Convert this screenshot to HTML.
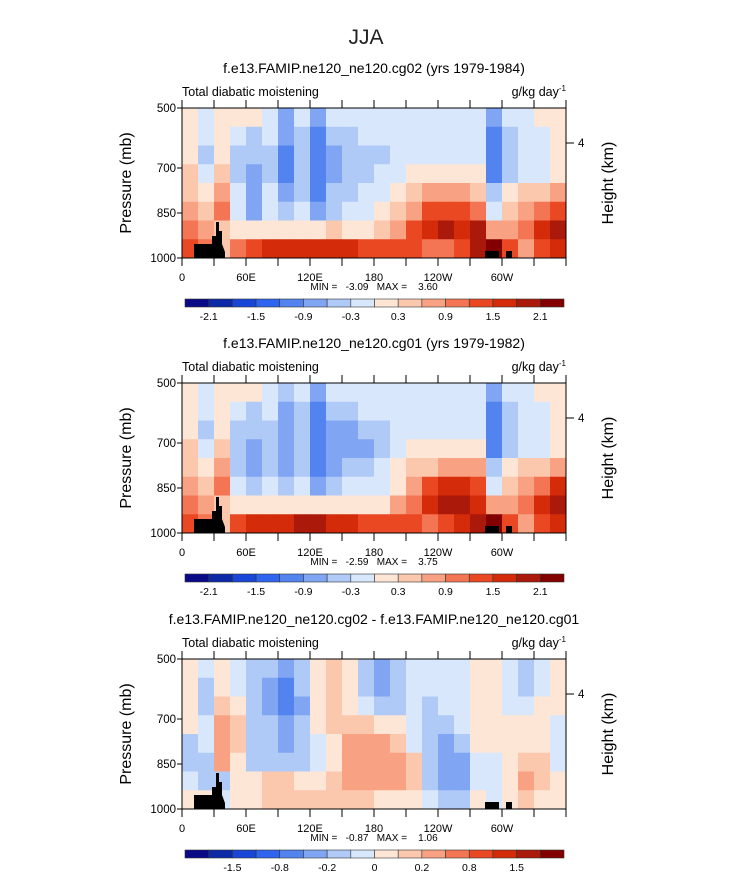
<!DOCTYPE html>
<html><head><meta charset="utf-8"><style>
body{margin:0;background:#fff;width:733px;height:873px;overflow:hidden}
svg{font-family:"Liberation Sans",sans-serif}
</style></head><body>
<svg id="fig" width="733" height="873" viewBox="0 0 733 873" xmlns="http://www.w3.org/2000/svg">
<text x="366" y="44" text-anchor="middle" font-size="21" fill="#222">JJA</text>
</svg>
<script>
const lonBins=[0,15,30,45,60,75,90,105,120,135,150,165,180,195,210,225,240,255,270,285,300,315,330,345,360];
const xTickLabels=["0","60E","120E","180","120W","60W"];
const xTickLons=[0,60,120,180,240,300];
const yTickLabels=["500","700","850","1000"];
const yTickFrac=[0,0.4,0.7,1];
const colors=["#0a0a86","#0d2aa6","#1846d6","#2e64ee","#5283ef","#80a5f2","#b0caf7","#d8e7fb","#fde6d6","#fbc7ad","#f8a283","#f37553","#e94823","#d42b0b","#ab190a","#820000"];
const levels1=[-2.1,-1.8,-1.5,-1.2,-0.9,-0.6,-0.3,0,0.3,0.6,0.9,1.2,1.5,1.8,2.1];
const cbLabels1=["-2.1","-1.5","-0.9","-0.3","0.3","0.9","1.5","2.1"];
const cbLabelIdx1=[0,2,4,6,8,10,12,14];
const levels3=[-2,-1.5,-1.2,-0.8,-0.5,-0.2,-0.1,0,0.1,0.2,0.5,0.8,1.2,1.5,2];
const cbLabels3=["-1.5","-0.8","-0.2","0","0.2","0.8","1.5"];
const cbLabelIdx3=[1,3,5,7,9,11,13];
const field1=[
[0.1,-0.1,0.1,0.2,0.1,-0.2,-0.7,-0.3,-0.8,-0.3,-0.2,-0.2,-0.2,-0.2,-0.2,-0.2,-0.2,-0.1,-0.2,-0.8,-0.3,-0.1,0.1,0.2],
[0.1,-0.3,0.1,-0.2,-0.4,-0.3,-0.9,-0.4,-1.0,-0.5,-0.4,-0.3,-0.2,-0.2,-0.2,-0.2,-0.2,-0.2,-0.2,-1.1,-0.4,-0.3,-0.2,0.1],
[0.2,-0.4,0.2,-0.4,-0.6,-0.4,-1.0,-0.5,-1.1,-0.7,-0.6,-0.5,-0.4,-0.2,-0.2,-0.2,-0.2,-0.2,-0.2,-1.2,-0.5,-0.3,-0.2,0.1],
[0.3,-0.2,0.5,-0.4,-0.8,-0.4,-1.0,-0.5,-1.1,-0.7,-0.6,-0.5,-0.3,-0.1,0.1,0.2,0.2,0.2,0.2,-1.0,-0.4,-0.2,-0.1,0.2],
[0.5,0.2,0.8,-0.2,-0.8,-0.3,-0.8,-0.4,-1.0,-0.6,-0.4,-0.3,-0.2,0.2,0.4,0.6,0.6,0.6,0.5,-0.5,0.1,0.3,0.5,0.7],
[0.8,0.5,1.0,-0.1,-0.7,-0.2,-0.4,-0.2,-0.8,-0.4,-0.2,-0.1,0.1,0.3,0.8,1.2,1.3,1.2,1.1,-0.1,0.5,0.8,1.1,1.4],
[1.0,0.6,0.4,0.2,0.1,0.2,0.2,0.2,0.0,0.3,0.2,0.2,0.3,0.6,1.2,1.6,1.8,1.7,1.8,0.6,0.8,1.0,1.6,2.0],
[1.4,1.1,0.5,1.1,1.4,1.5,1.6,1.7,1.6,1.7,1.5,1.4,1.3,1.3,1.2,1.1,1.1,1.4,2.0,2.2,1.4,0.8,1.4,1.7]];
const field2=[
[0.1,-0.1,0.1,0.2,0.1,-0.2,-0.6,-0.3,-0.8,-0.3,-0.2,-0.2,-0.1,-0.1,-0.2,-0.2,-0.2,-0.1,-0.2,-0.8,-0.3,-0.1,0.1,0.2],
[0.1,-0.3,0.1,-0.2,-0.4,-0.3,-0.8,-0.4,-1.0,-0.5,-0.4,-0.3,-0.2,-0.2,-0.2,-0.2,-0.2,-0.2,-0.2,-1.1,-0.4,-0.3,-0.2,0.1],
[0.2,-0.4,0.2,-0.4,-0.6,-0.4,-0.9,-0.5,-1.1,-0.7,-0.7,-0.6,-0.4,-0.2,-0.2,-0.2,-0.2,-0.2,-0.2,-1.1,-0.5,-0.3,-0.2,0.1],
[0.3,-0.2,0.4,-0.5,-0.8,-0.5,-0.9,-0.6,-1.1,-0.8,-0.8,-0.7,-0.4,-0.2,0.0,0.2,0.2,0.2,0.2,-1.0,-0.4,-0.2,-0.1,0.2],
[0.5,0.2,0.7,-0.4,-0.7,-0.4,-0.7,-0.5,-1.0,-0.7,-0.6,-0.5,-0.3,0.0,0.3,0.5,0.7,0.8,0.6,-0.5,0.1,0.3,0.5,0.7],
[0.8,0.4,0.9,-0.2,-0.5,-0.3,-0.4,-0.3,-0.7,-0.4,-0.3,-0.2,-0.1,0.2,0.7,1.2,1.6,1.6,1.2,-0.1,0.5,0.8,1.1,1.5],
[1.0,0.6,0.4,0.2,0.1,0.1,0.1,0.2,0.0,0.2,0.1,0.1,0.2,0.6,1.1,1.6,2.0,1.8,1.7,0.6,0.8,1.0,1.6,2.0],
[1.4,1.1,0.5,1.2,1.5,1.6,1.7,1.8,1.8,1.7,1.5,1.4,1.3,1.3,1.2,1.1,1.2,1.5,2.0,2.2,1.4,0.8,1.4,1.7]];
const field3=[
[0.03,-0.05,0.03,-0.05,-0.2,-0.15,-0.4,-0.2,0.05,0.12,0.05,-0.2,-0.3,-0.12,-0.05,-0.05,-0.05,-0.05,0.03,0.05,-0.05,-0.12,-0.05,0.03],
[0.03,-0.12,0.05,-0.05,-0.2,-0.25,-0.55,-0.2,0.08,0.18,0.05,-0.2,-0.3,-0.2,-0.05,-0.05,-0.05,-0.05,0.03,0.05,-0.05,-0.12,-0.05,0.03],
[0.03,-0.12,0.18,0.05,-0.2,-0.25,-0.55,-0.25,0.05,0.18,0.08,-0.05,-0.2,-0.12,-0.05,-0.12,-0.05,-0.03,0.03,0.08,-0.05,-0.05,0.03,0.03],
[0.03,-0.05,0.25,0.18,-0.12,-0.2,-0.35,-0.2,0.03,0.12,0.18,0.12,0.05,0.03,-0.05,-0.12,-0.12,-0.05,0.03,0.08,0.03,0.05,0.05,-0.05],
[-0.12,-0.05,0.35,0.18,-0.12,-0.2,-0.3,-0.2,-0.05,0.05,0.2,0.2,0.2,0.12,-0.05,-0.2,-0.25,-0.12,0.03,0.05,0.03,0.05,0.08,-0.05],
[-0.2,-0.2,0.25,0.05,-0.12,-0.12,-0.2,-0.12,-0.05,0.05,0.25,0.4,0.4,0.25,0.12,-0.2,-0.3,-0.25,-0.05,-0.05,0.05,0.18,0.12,-0.05],
[-0.05,-0.12,-0.2,0.05,0.05,0.12,0.18,0.05,0.05,0.12,0.2,0.4,0.3,0.2,0.12,-0.12,-0.3,-0.25,-0.05,-0.05,0.05,0.2,0.12,0.03],
[0.05,0.05,-0.05,0.05,0.05,0.12,0.12,0.12,0.18,0.12,0.12,0.12,0.05,0.05,0.05,-0.05,-0.12,-0.12,0.03,-0.05,0.05,0.12,0.05,0.05]];
const panels=[
 {top:108,title:"f.e13.FAMIP.ne120_ne120.cg02 (yrs 1979-1984)",field:field1,levels:levels1,cbl:cbLabels1,cbi:cbLabelIdx1,mn:"-3.09",mx:"3.60"},
 {top:383,title:"f.e13.FAMIP.ne120_ne120.cg01 (yrs 1979-1982)",field:field2,levels:levels1,cbl:cbLabels1,cbi:cbLabelIdx1,mn:"-2.59",mx:"3.75"},
 {top:659,title:"f.e13.FAMIP.ne120_ne120.cg02 - f.e13.FAMIP.ne120_ne120.cg01",field:field3,levels:levels3,cbl:cbLabels3,cbi:cbLabelIdx3,mn:"-0.87",mx:"1.06"}];
const NS="http://www.w3.org/2000/svg";
const svg=document.getElementById('fig');
const X0=182,W=384,H=150;
function xs(lon){return X0+lon/360*W;}
function mk(tag,a,parent){const e=document.createElementNS(NS,tag);for(const k in a)e.setAttribute(k,a[k]);(parent||svg).appendChild(e);return e;}
function colorFor(v,lv){let i=0;while(i<lv.length&&v>=lv[i])i++;return colors[i];}
panels.forEach((p,pi)=>{
 const g=mk('g',{});
 
 
 const T=p.top;
 const t=mk('text',{x:374,y:T-35,'text-anchor':'middle','font-size':14,fill:'#000'},g);t.textContent=p.title;
 
 
 const l=mk('text',{x:X0,y:T-12,'font-size':12.5,fill:'#000'},g);l.textContent="Total diabatic moistening";
 
 
 const u=mk('text',{x:X0+W,y:T-12,'text-anchor':'end','font-size':12.5,fill:'#000'},g);u.innerHTML='g/kg day<tspan dy="-5" font-size="8">-1</tspan>';
 
 
 const rows=p.field.length;
 p.field.forEach((row,ri)=>{row.forEach((v,ci)=>{
  const r=mk('rect',{x:xs(lonBins[ci]),y:T+ri*H/rows,width:xs(lonBins[ci+1])-xs(lonBins[ci])+0.5,height:H/rows+0.5,fill:colorFor(v,p.levels)},g);
  
  
 });});
 const b=T+H;
 const land=mk('path',{d:`M194 ${b}V${b-14}H212V${b-22}H216V${b-36}H219V${b-27}H222V${b-14}L225 ${b-6}V${b}Z M485 ${b}V${b-7}H499V${b}Z M506 ${b}V${b-7}H512V${b}Z`,fill:'#000'},g);
 
 
 const fr=mk('rect',{x:X0,y:T,width:W,height:H,fill:'none',stroke:'#000','stroke-width':1},g);
 
 
 for(let lon=0;lon<=360;lon+=30){
  const tk=mk('path',{d:`M${xs(lon)} ${T}V${T-8}M${xs(lon)} ${b}V${b+8}`,stroke:'#000'},g);
  
  
 }
 xTickLabels.forEach((s,i)=>{const e=mk('text',{x:xs(xTickLons[i]),y:b+23,'text-anchor':'middle','font-size':11},g);e.textContent=s;
  
  });
 yTickLabels.forEach((s,i)=>{const y=T+yTickFrac[i]*H;
  const e=mk('text',{x:X0-6,y:y+4,'text-anchor':'end','font-size':11.5},g);e.textContent=s;
  
  
  const tk=mk('path',{d:`M${X0} ${y}H${X0-5}`,stroke:'#000'},g);
  
  });
 const rt=mk('path',{d:`M${X0+W} ${T+35}H${X0+W+8}`,stroke:'#000'},g);
 
 
 const r4=mk('text',{x:X0+W+12,y:T+39,'font-size':11.5},g);r4.textContent="4";
 
 
 const yt=mk('text',{transform:`translate(131 ${T+75}) rotate(-90)`,'text-anchor':'middle','font-size':16},g);yt.textContent="Pressure (mb)";
 
 
 const ht=mk('text',{transform:`translate(613 ${T+75}) rotate(-90)`,'text-anchor':'middle','font-size':16},g);ht.textContent="Height (km)";
 
 
 const mm=mk('text',{x:374,y:b+32,'text-anchor':'middle','font-size':10},g);mm.textContent=`MIN =   ${p.mn}   MAX =    ${p.mx}`;
 mm.style.whiteSpace='pre';
 
 
 const cy=b+41,cx=185,cw=379/16;
 colors.forEach((c,i)=>{const r=mk('rect',{x:cx+i*cw,y:cy,width:cw,height:8,fill:c,stroke:'#333','stroke-width':0.6},g);
  
  });
 p.cbl.forEach((s,i)=>{const e=mk('text',{x:cx+(p.cbi[i]+1)*cw,y:cy+21,'text-anchor':'middle','font-size':10.5},g);e.textContent=s;
  
  });
});
</script>
</body></html>
